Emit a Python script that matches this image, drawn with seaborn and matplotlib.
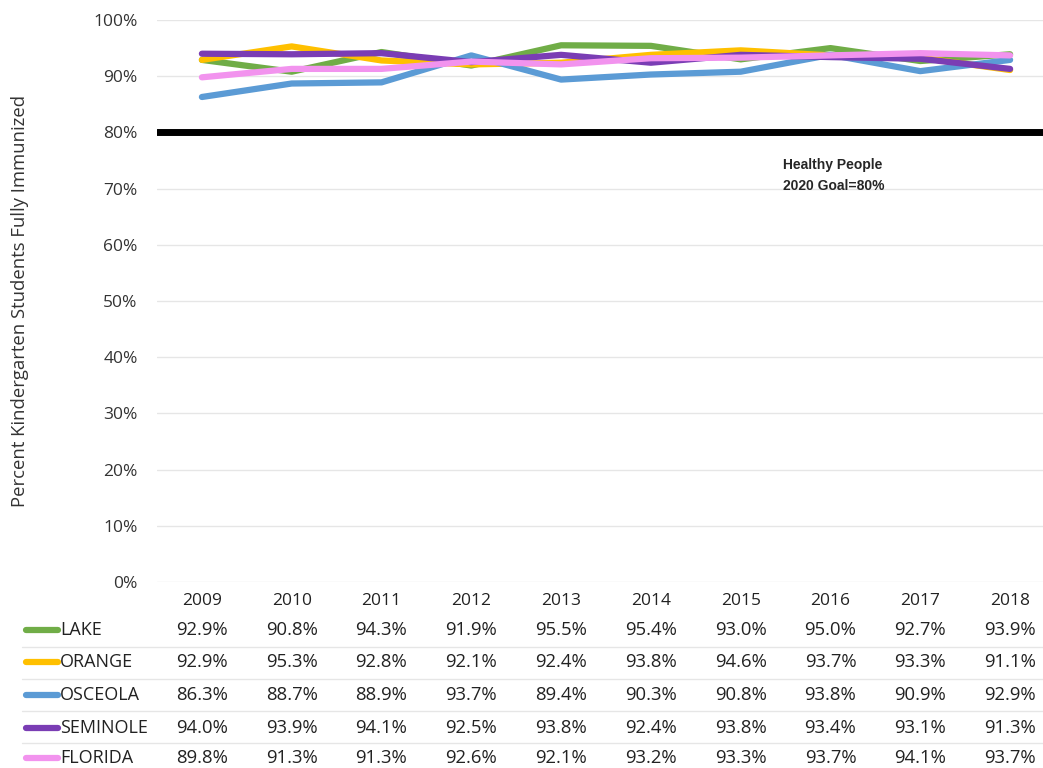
import numpy as np
import pandas as pd
import matplotlib.pyplot as plt
import matplotlib.transforms as mtrans
import seaborn as sns

years = ['2009', '2010', '2011', '2012', '2013', '2014', '2015', '2016', '2017', '2018']
counties = ['LAKE', 'ORANGE', 'OSCEOLA', 'SEMINOLE', 'FLORIDA']
lake = [92.9, 90.8, 94.3, 91.9, 95.5, 95.4, 93.0, 95.0, 92.7, 93.9]
orange = [92.9, 95.3, 92.8, 92.1, 92.4, 93.8, 94.6, 93.7, 93.3, 91.1]
osceola = [86.3, 88.7, 88.9, 93.7, 89.4, 90.3, 90.8, 93.8, 90.9, 92.9]
seminole = [94.0, 93.9, 94.1, 92.5, 93.8, 92.4, 93.8, 93.4, 93.1, 91.3]
florida = [89.8, 91.3, 91.3, 92.6, 92.1, 93.2, 93.3, 93.7, 94.1, 93.7]
goal = 80
colors = ['#70AD47', '#FFC000', '#5B9BD5', '#7A3DB4', '#F293EE']

series = [lake, orange, osceola, seminole, florida]
df = pd.DataFrame({
    'year': np.tile(np.arange(len(years)), len(counties)),
    'county': np.repeat(counties, len(years)),
    'pct': np.concatenate(series),
})

sns.set_theme(style='white')
plt.rcParams['font.family'] = ['Open Sans', 'DejaVu Sans']

fig = plt.figure(figsize=(10.43, 7.68), dpi=100)
W, H = 1043, 768
ax = fig.add_axes([157 / W, 1 - 582 / H, (1043 - 157) / W, (582 - 20) / H])

sns.lineplot(data=df, x='year', y='pct', hue='county', palette=colors,
             linewidth=4.5, legend=False, ax=ax)
ax.axhline(goal, color='black', linewidth=5, zorder=1)

ax.set_ylim(0, 100)
ax.set_xlim(-0.5, (1043 - 157) / 89.8 - 0.5)
ax.set_yticks(range(0, 101, 10))
ax.set_yticklabels([f'{v}%' for v in range(0, 101, 10)], fontsize=12.5, color='#333333')
ax.set_xticks(range(len(years)))
ax.set_xticklabels(years, fontsize=12.5, color='#222222')
ax.tick_params(axis='both', length=0)
ax.tick_params(axis='x', pad=8)
ax.tick_params(axis='y', pad=14)
ax.grid(axis='y', color='#E6E6E6', linewidth=1)
ax.set_axisbelow(True)
for s in ax.spines.values():
    s.set_visible(False)
ax.set_xlabel('')
ax.set_ylabel('Percent Kindergarten Students Fully Immunized', fontsize=13.3, color='#333333')
ax.yaxis.set_label_coords((29 - 157) / 886, 0.5)

ax.text(6.47, 75.4, 'Healthy People\n2020 Goal=80%', fontsize=10, fontweight='bold',
        va='top', ha='left', linespacing=1.6, family=['Liberation Sans', 'DejaVu Sans'])

# data table below the chart
trans = mtrans.blended_transform_factory(ax.transData, fig.transFigure)
row_y = [630, 662, 695, 728, 758]
sep_y = [647, 679, 711, 743]
for yp in sep_y:
    fig.add_artist(plt.Line2D([22 / W, 1], [1 - yp / H, 1 - yp / H], color='#E6E6E6', lw=1))
for name, vals, col, yp in zip(counties, series, colors, row_y):
    yf = 1 - yp / H
    fig.add_artist(plt.Line2D([26 / W, 58 / W], [yf, yf], color=col, lw=4.5,
                              solid_capstyle='round'))
    fig.text(60 / W, yf, name, fontsize=13, va='center', ha='left', color='#222222')
    for i, v in enumerate(vals):
        ax.text(i, yf, f'{v:.1f}%', transform=trans, fontsize=13.3, va='center',
                ha='center', color='#222222', clip_on=False)

fig.savefig('out.png', dpi=100)
